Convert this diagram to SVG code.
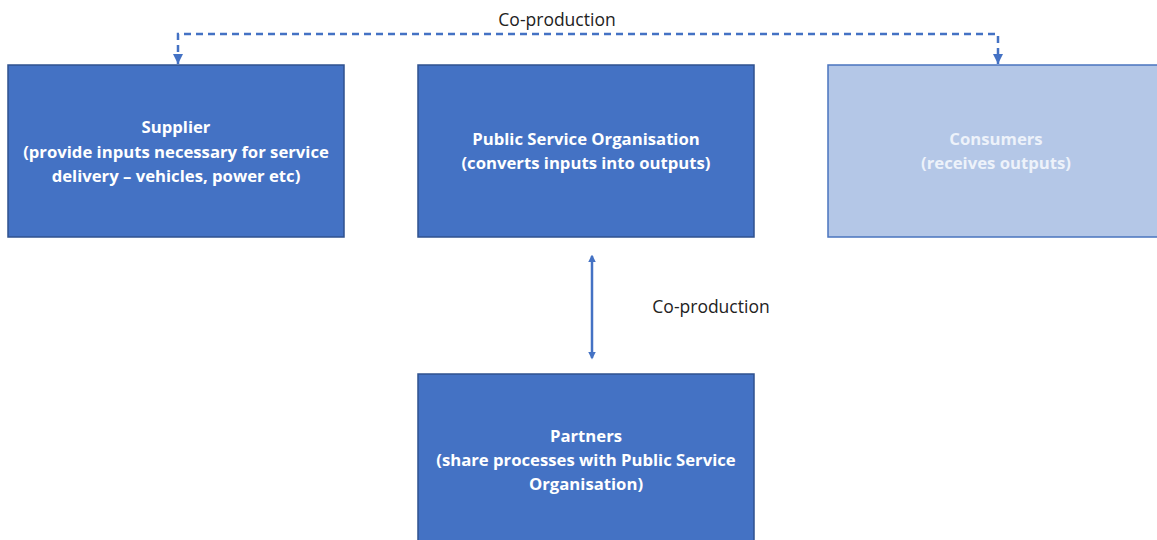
<svg xmlns="http://www.w3.org/2000/svg" width="1157" height="540" viewBox="0 0 1157 540">
<style>
.box{fill:#4472C4;stroke:#2F528F;stroke-width:1.5}
.light{fill:#B4C7E7;stroke:#4A74BE;stroke-width:1.5}
.t{font-family:"Open Sans","Liberation Sans",sans-serif;font-weight:bold;font-size:16.7px;fill:#FFFFFF;text-anchor:middle}
.tl{fill:#EDF2FA}
.lbl{font-family:"Open Sans","Liberation Sans",sans-serif;font-size:17.5px;fill:#222222;text-anchor:middle}
.conn{fill:none;stroke:#4472C4;stroke-width:2.5}
</style>
<defs>
<marker id="ah" viewBox="0 0 10 10" refX="10" refY="5" markerWidth="4" markerHeight="4" orient="auto-start-reverse"><path d="M0,0 L10,5 L0,10 Z" fill="#4472C4"/></marker>
<marker id="dh" viewBox="0 0 10 10" refX="8" refY="5" markerWidth="3" markerHeight="3" orient="auto-start-reverse"><path d="M0,0 L10,5 L0,10 Z" fill="#4472C4"/></marker>
</defs>
<g id="connectors">
<path class="conn" d="M178,64 L178,34 L998,34 L998,64" stroke-dasharray="7,5" marker-start="url(#ah)" marker-end="url(#ah)"/>
<line class="conn" x1="592" y1="256" x2="592" y2="358" stroke-width="3.5" marker-start="url(#dh)" marker-end="url(#dh)"/>
<text class="lbl" x="557" y="26">Co-production</text>
<text class="lbl" x="711" y="313">Co-production</text>
</g>
<g id="supplier">
<rect class="box" x="8" y="65" width="336" height="172"/>
<text class="t" x="176" y="133">Supplier</text>
<text class="t" x="176" y="158">(provide inputs necessary for service</text>
<text class="t" x="176" y="182">delivery – vehicles, power etc)</text>
</g>
<g id="pso">
<rect class="box" x="418" y="65" width="336" height="172"/>
<text class="t" x="586" y="145">Public Service Organisation</text>
<text class="t" x="586" y="169">(converts inputs into outputs)</text>
</g>
<g id="consumers">
<rect class="light" x="828" y="65" width="340" height="172"/>
<text class="t tl" x="996" y="145">Consumers</text>
<text class="t tl" x="996" y="169">(receives outputs)</text>
</g>
<g id="partners">
<rect class="box" x="418" y="374" width="336" height="180"/>
<text class="t" x="586" y="442">Partners</text>
<text class="t" x="586" y="466">(share processes with Public Service</text>
<text class="t" x="586" y="490">Organisation)</text>
</g>
</svg>
